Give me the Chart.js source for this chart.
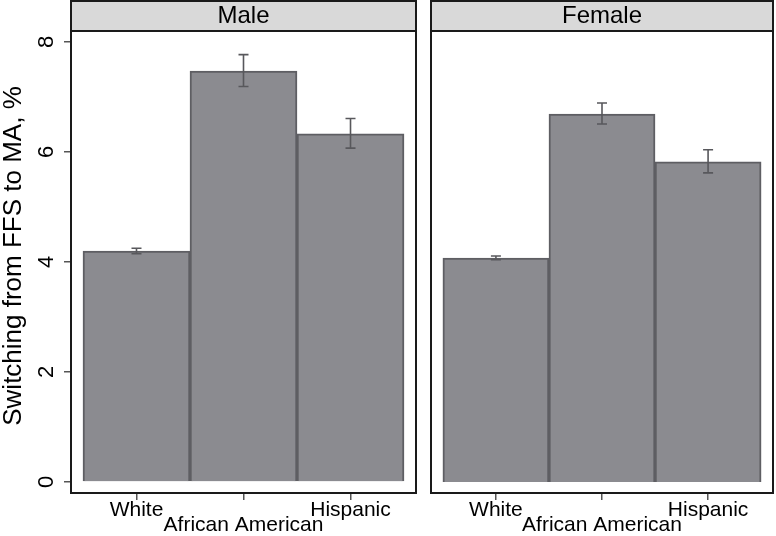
<!DOCTYPE html>
<html>
<head>
<meta charset="utf-8">
<script src="https://cdn.jsdelivr.net/npm/chart.js@4/dist/chart.umd.min.js"></script>
<style>
  body { margin: 0; background: #fff; }
  #wrap { position: relative; width: 776px; height: 536px; }
  canvas { position: absolute; top: 0; }
</style>
</head>
<body>
<div id="wrap">
  <canvas id="male" width="418" height="536" style="left:0;width:418px;height:536px"></canvas>
  <canvas id="female" width="346" height="536" style="left:430px;width:346px;height:536px"></canvas>
</div>
<script>
"use strict";

// categories and tick labels
const groups = ['White', 'African American', 'Hispanic'];
const yTicks = [0, 2, 4, 6, 8];

// switching rates, %
const maleValues = [4.2, 7.47, 6.33];
const maleLow = [4.15, 7.19, 6.07];
const maleHigh = [4.25, 7.77, 6.61];

const femaleValues = [4.07, 6.69, 5.82];
const femaleLow = [4.04, 6.51, 5.62];
const femaleHigh = [4.11, 6.89, 6.04];

const font = 'Liberation Sans, Arial, Helvetica, sans-serif';

/**----------------------------------------------------------------------
 * [panel frame, strip header, error bars and rotated y labels]
 *--------------------------------------------------------------*/
const panelPlugin = {
    id: 'panel',
    afterDatasetsDraw(chart, args, opts) {
        const ctx = chart.ctx;
        const a = chart.chartArea;
        const x = chart.scales.x;
        const y = chart.scales.y;

        // error bars
        ctx.save();
        ctx.strokeStyle = '#58585c';
        ctx.lineWidth = 1.6;
        for (let i = 0; i < opts.low.length; i++) {
            const px = x.getPixelForValue(i + 1);
            const y1 = y.getPixelForValue(opts.low[i]);
            const y2 = y.getPixelForValue(opts.high[i]);
            ctx.beginPath();
            ctx.moveTo(px, y1); ctx.lineTo(px, y2);
            ctx.moveTo(px - 5, y1); ctx.lineTo(px + 5, y1);
            ctx.moveTo(px - 5, y2); ctx.lineTo(px + 5, y2);
            ctx.stroke();
        }
        ctx.restore();

        // frame
        ctx.save();
        ctx.strokeStyle = '#1a1a1a';
        ctx.lineWidth = 2;
        ctx.strokeRect(a.left, a.top, a.right - a.left, a.bottom - a.top);

        // strip header
        ctx.fillStyle = '#d9d9d9';
        ctx.fillRect(a.left, 1, a.right - a.left, a.top - 1);
        ctx.strokeRect(a.left, 1, a.right - a.left, a.top - 1);
        ctx.fillStyle = '#000';
        ctx.font = '24px ' + font;
        ctx.textAlign = 'center';
        ctx.textBaseline = 'middle';
        ctx.fillText(opts.title, (a.left + a.right) / 2, a.top / 2 + 1);

        // rotated y tick labels and axis title
        if (opts.yLabels) {
            ctx.font = '22px ' + font;
            for (const v of yTicks) {
                const py = y.getPixelForValue(v);
                ctx.save();
                ctx.translate(47, py);
                ctx.rotate(-Math.PI / 2);
                ctx.fillText(String(v), 0, 0);
                ctx.restore();
            }
            ctx.font = '26px ' + font;
            ctx.save();
            ctx.translate(14, 256);
            ctx.rotate(-Math.PI / 2);
            ctx.fillText(opts.yTitle, 0, 0);
            ctx.restore();
        }
        ctx.restore();
    }
};

/**----------------------------------------------------------------------
 * [build one panel]
 *--------------------------------------------------------------*/
function panel(id, title, values, low, high, showY) {
    return new Chart(document.getElementById(id), {
        type: 'bar',
        data: {
            datasets: [{
                data: values.map((v, i) => ({ x: i + 1, y: v })),
                backgroundColor: '#8b8b90',
                borderColor: '#5e5e63',
                borderWidth: 2,
                barPercentage: 1,
                categoryPercentage: 1
            }]
        },
        options: {
            responsive: false,
            animation: false,
            events: [],
            layout: { padding: { top: 31, right: showY ? 2 : 3, left: showY ? 0 : 1 } },
            plugins: {
                legend: { display: false },
                tooltip: { enabled: false },
                panel: {
                    title: title, low: low, high: high, yLabels: showY,
                    yTitle: 'Switching from FFS to MA, %'
                }
            },
            scales: {
                x: {
                    type: 'linear',
                    offset: false,
                    min: 0.388,
                    max: 3.612,
                    afterBuildTicks: s => { s.ticks = groups.map((g, i) => ({ value: i + 1 })); },
                    afterFit: s => { s.height = 43; },
                    grid: { offset: false, drawOnChartArea: false, drawTicks: true, tickLength: 7, color: '#555', lineWidth: 1.5 },
                    border: { display: false },
                    ticks: {
                        maxRotation: 0,
                        minRotation: 0,
                        autoSkip: false,
                        padding: 3,
                        color: '#000',
                        font: { family: font, size: 21, lineHeight: 0.72 },
                        callback: v => v === 2 ? ['', groups[1]] : groups[v - 1]
                    }
                },
                y: {
                    display: showY,
                    min: -0.2,
                    max: 8.2,
                    afterBuildTicks: s => { s.ticks = yTicks.map(v => ({ value: v })); },
                    afterFit: s => { s.width = showY ? 71 : 0; },
                    grid: { drawOnChartArea: false, drawTicks: true, tickLength: 7, color: '#555', lineWidth: 1.5 },
                    border: { display: false },
                    ticks: { display: false }
                }
            }
        },
        plugins: [panelPlugin]
    });
}

panel('male', 'Male', maleValues, maleLow, maleHigh, true);
panel('female', 'Female', femaleValues, femaleLow, femaleHigh, false);
</script>
</body>
</html>
